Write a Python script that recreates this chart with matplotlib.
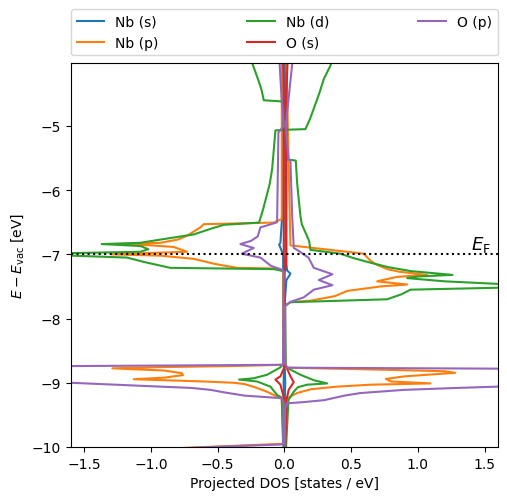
import matplotlib
matplotlib.use('Agg')
import matplotlib.pyplot as plt

# projected DOS, spin up on the right, spin down on the left
# each curve is (energy in eV, DOS in states/eV), ordered by energy
E_FERMI = -7.0

nb_s_up_E = [-10.5, -9.25, -9.0, -8.75, -7.75, -7.4, -7.32, -7.3, -7.25, -7.1, -6.9, -3.5]
nb_s_up = [0, 0.003, 0.006, 0.003, 0.002, 0.015, 0.04, 0.045, 0.02, 0.012, 0.008, 0.005]
nb_s_dn_E = [-10.5, -9.25, -9.0, -8.75, -7.0, -6.95, -6.87, -6.85, -6.82, -6.5, -6.0, -3.5]
nb_s_dn = [0, -0.003, -0.006, -0.003, -0.01, -0.02, -0.035, -0.04, -0.03, -0.02, -0.01, -0.005]

nb_p_up_E = [-10.5, -9.3, -9.24, -9.16, -9.10, -9.06, -9.03, -9.01, -8.98, -8.94, -8.90,
             -8.845, -8.82, -8.79, -8.765, -7.8, -7.745, -7.72, -7.65, -7.57, -7.50, -7.47,
             -7.42, -7.35, -7.32, -7.27, -7.23, -7.16, -7.10, -6.99, -6.86, -6.40, -3.5]
nb_p_up = [0, 0.01, 0.02, 0.095, 0.2, 0.395, 0.645, 1.095, 0.8, 0.76, 0.9,
           1.28, 1.2, 0.6, 0.005, 0.005, 0.045, 0.2, 0.38, 0.47, 0.72, 0.92,
           0.695, 0.845, 1.07, 0.86, 0.77, 0.69, 0.645, 0.595, 0.045, 0.04, 0.01]
nb_p_dn_E = [-10.1, -10.02, -9.95, -9.25, -9.21, -9.14, -9.07, -9.02, -9.0, -8.98, -8.96,
             -8.945, -8.92, -8.88, -8.85, -8.81, -8.775, -8.755, -8.74, -8.72, -7.26, -7.22,
             -7.21, -7.15, -7.07, -7.02, -7.0, -6.98, -6.96, -6.885, -6.86, -6.84, -6.82,
             -6.77, -6.71, -6.58, -6.53, -6.505, -6.45, -3.5]
nb_p_dn = [-1.5, -0.82, -0.01, -0.02, -0.06, -0.13, -0.22, -0.3, -0.38, -0.6, -0.9,
           -1.13, -0.9, -0.76, -0.77, -0.9, -1.29, -0.9, -0.4, -0.01, -0.01, -0.08,
           -0.355, -0.52, -0.68, -0.93, -1.3, -1.03, -0.73, -0.83, -1.0, -1.25, -0.93,
           -0.8, -0.73, -0.63, -0.605, -0.08, -0.02, -0.02]

nb_d_up_E = [-10.5, -9.27, -9.14, -9.07, -9.03, -9.01, -8.96, -8.875, -8.80, -8.745, -7.8,
             -7.745, -7.70, -7.62, -7.55, -7.52, -7.49, -7.46, -7.42, -7.37, -7.345, -7.32,
             -7.26, -7.20, -7.13, -7.06, -6.99, -6.93, -6.79, -6.53, -6.40, -6.1, -5.88,
             -5.54, -5.52, -5.06, -5.05, -4.9, -4.73, -4.5, -4.27, -4.06, -3.9]
nb_d_up = [0, 0.03, 0.07, 0.1, 0.17, 0.32, 0.22, 0.12, 0.05, 0.01, 0.005,
           0.045, 0.77, 0.88, 0.945, 1.6, 2.3, 1.6, 1.2, 0.92, 1.0, 1.26,
           0.945, 0.78, 0.645, 0.52, 0.42, 0.195, 0.185, 0.13, 0.12, 0.105, 0.095,
           0.085, 0.02, 0.01, 0.1575, 0.19, 0.22, 0.26, 0.295, 0.345, 0.37]
nb_d_dn_E = [-10.5, -9.23, -9.19, -9.06, -8.98, -8.95, -8.93, -8.875, -8.76, -8.7, -7.26,
             -7.23, -7.21, -7.12, -7.05, -7.02, -7.0, -6.98, -6.96, -6.92, -6.87, -6.84,
             -6.82, -6.77, -6.69, -6.60, -6.54, -6.505, -6.3, -6.14, -5.9, -5.67, -5.07,
             -5.06, -4.62, -4.60, -4.45, -4.32, -4.03, -3.9]
nb_d_dn = [0, -0.02, -0.055, -0.105, -0.205, -0.34, -0.23, -0.13, -0.03, -0.005, -0.005,
           -0.08, -0.855, -1.05, -1.18, -1.6, -2.3, -1.6, -1.08, -1.02, -1.08, -1.37,
           -1.08, -0.93, -0.68, -0.55, -0.455, -0.19, -0.16, -0.14, -0.11, -0.092, -0.0675,
           -0.01, -0.01, -0.155, -0.17, -0.19, -0.24, -0.26]

o_s_up_E = [-10.5, -9.27, -9.11, -8.99, -8.9, -8.755, -8.7, -7.3, -7.1, -4.5, -3.9]
o_s_up = [0, 0.015, 0.032, 0.07, 0.045, 0.015, 0.005, 0.0, 0.015, 0.015, 0.025]
o_s_dn_E = [-10.5, -9.27, -9.03, -8.95, -8.9, -8.755, -8.7, -7.3, -7.0, -4.5, -3.9]
o_s_dn = [0, 0, -0.03, -0.0675, -0.03, 0, -0.005, 0, -0.005, -0.005, -0.01]

o_p_up_E = [-10.5, -9.4, -9.32, -9.30, -9.27, -9.2, -9.16, -9.11, -9.08, -9.06, -9.0,
            -8.8, -8.78, -8.765, -8.7, -7.8, -7.74, -7.67, -7.55, -7.48, -7.40, -7.31,
            -7.21, -7.05, -6.93, -6.90, -6.40, -5.54, -5.52, -5.0, -4.6, -3.9]
o_p_up = [0, 0.005, 0.02, 0.15, 0.3, 0.45, 0.57, 0.9, 1.3, 1.6, 2.2,
          2.2, 1.6, 0.02, 0.005, 0.005, 0.045, 0.145, 0.22, 0.36, 0.2575, 0.36,
          0.22, 0.18, 0.095, 0.07, 0.058, 0.045, 0.03, 0.01, 0.03, 0.065]
o_p_dn_E = [-10.1, -10.01, -9.96, -9.3, -9.24, -9.2, -9.15, -9.11, -9.08, -9.06, -9.0,
            -8.9, -8.8, -8.74, -8.72, -7.26, -7.23, -7.18, -7.05, -6.99, -6.90, -6.84,
            -6.79, -6.72, -6.58, -6.53, -6.5, -5.1, -5.0, -4.6, -3.9]
o_p_dn = [-1.2, -0.68, -0.01, -0.005, -0.02, -0.3, -0.45, -0.555, -0.7, -0.93, -1.6,
          -2.2, -2.2, -1.6, -0.01, -0.005, -0.03, -0.1, -0.18, -0.32, -0.23, -0.33,
          -0.25, -0.2, -0.18, -0.1, -0.055, -0.045, -0.005, -0.02, -0.04]

labels = ['Nb (s)', 'Nb (p)', 'Nb (d)', 'O (s)', 'O (p)']
curves = [
    (nb_s_up_E, nb_s_up, nb_s_dn_E, nb_s_dn),
    (nb_p_up_E, nb_p_up, nb_p_dn_E, nb_p_dn),
    (nb_d_up_E, nb_d_up, nb_d_dn_E, nb_d_dn),
    (o_s_up_E, o_s_up, o_s_dn_E, o_s_dn),
    (o_p_up_E, o_p_up, o_p_dn_E, o_p_dn),
]

fig, ax = plt.subplots(figsize=(5.07, 5.02), dpi=100)
for i, (lab, (e_up, d_up, e_dn, d_dn)) in enumerate(zip(labels, curves)):
    ax.plot(d_up, e_up, color=f'C{i}', label=lab)
    ax.plot(d_dn, e_dn, color=f'C{i}')

ax.axhline(E_FERMI, color='k', ls=':')
ax.text(1.55, E_FERMI, r'$E_\mathrm{F}$', ha='right', va='bottom', fontsize=13)

ax.set_xlim(-1.6, 1.6)
ax.set_ylim(-10, -4.02)
ax.set_xlabel('Projected DOS [states / eV]')
ax.set_ylabel(r'$E - E_\mathrm{vac}$ [eV]')
ax.legend(bbox_to_anchor=(0, 1.02, 1, 0.102), loc='lower left', mode='expand',
          ncol=3, borderaxespad=0)

fig.subplots_adjust(left=0.140, right=0.982, top=0.8725, bottom=0.1076)
fig.savefig('out.png')
